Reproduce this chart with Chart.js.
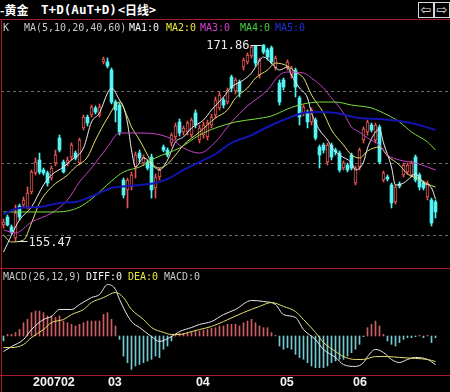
<!DOCTYPE html>
<html>
<head>
<meta charset="utf-8">
<script src="https://cdn.jsdelivr.net/npm/chart.js@4.4.0/dist/chart.umd.min.js"></script>
<style>
    body { margin: 0; background: #000; width: 450px; height: 392px; overflow: hidden; position: relative; }
    canvas { position: absolute; left: 1px; }
    #kline { top: 20px; }
    #macd { top: 268px; }
    .txt { position: absolute; white-space: pre; font: 10px 'DejaVu Sans Mono', monospace; line-height: 12px; }
    .title { position: absolute; top: 2px; color: #fff; font-weight: bold; font-size: 12px; line-height: 15px; white-space: pre; }
    .rule { position: absolute; background: #a8182a; }
    .btn { position: absolute; top: 2px; width: 14px; height: 14px; border: 1px solid #d8d8d8; color: #e8e8e8;
           font: 13px 'DejaVu Sans', sans-serif; line-height: 14px; text-align: center; }
</style>
</head>
<body>
<canvas id="kline" width="449" height="248"></canvas>
<canvas id="macd" width="449" height="124"></canvas>

<div class="title" style="left:0;font-family:'Noto Sans CJK SC';">-黄金</div>
<div class="title" style="left:41px;font-family:'DejaVu Sans Mono';font-size:12.6px;">T+D(AuT+D)</div>
<div class="title" style="left:118px;font-family:'Noto Sans CJK SC';">&lt;日线&gt;</div>
<div class="btn" style="left:418px;">⇦</div>
<div class="btn" style="left:434px;">⇨</div>

<div class="rule" style="left:0;top:19px;width:450px;height:1px;"></div>
<div class="rule" style="left:0;top:268px;width:450px;height:1px;"></div>
<div class="rule" style="left:0;top:375px;width:450px;height:1px;"></div>
<div class="rule" style="left:1px;top:19px;width:1px;height:373px;"></div>

<div class="txt" style="left:3px;top:22px;color:#c8c8c8;">K</div>
<div class="txt" style="left:24px;top:22px;color:#c8c8c8;">MA(5,10,20,40,60)</div>
<div class="txt" style="left:129px;top:22px;color:#f4f4f4;">MA1:0</div>
<div class="txt" style="left:166px;top:22px;color:#e8e840;">MA2:0</div>
<div class="txt" style="left:200px;top:22px;color:#d040d0;">MA3:0</div>
<div class="txt" style="left:240px;top:22px;color:#40d040;">MA4:0</div>
<div class="txt" style="left:275px;top:22px;color:#2030d8;">MA5:0</div>

<div class="txt" style="left:3px;top:271px;color:#c8c8c8;">MACD(26,12,9)</div>
<div class="txt" style="left:86px;top:271px;color:#f4f4f4;">DIFF:0</div>
<div class="txt" style="left:128px;top:271px;color:#e8e840;">DEA:0</div>
<div class="txt" style="left:164px;top:271px;color:#c8c8c8;">MACD:0</div>

<script>
// daily candles, one per trading day
const opens = [156.83,157.5,156.67,155.75,158.42,158.5,158.33,159.58,161.17,162.25,
    161.42,161.17,160.75,162.0,164.08,162.08,162.0,162.5,162.83,162.0,
    164.92,165.83,166.0,166.58,166.0,170.42,170.42,169.75,167.08,166.83,
    160.58,159.75,160.0,161.67,162.83,162.0,162.08,162.5,159.92,160.83,
    163.33,163.08,163.67,164.17,165.42,164.58,164.58,164.33,166.17,163.92,
    164.33,164.17,165.17,166.0,166.58,167.25,167.08,169.17,168.0,168.75,
    170.0,170.42,170.92,171.75,169.33,171.83,171.42,171.6,169.92,168.67,
    168.92,170.0,169.33,169.75,167.42,166.17,166.25,165.42,165.58,163.33,
    163.5,162.08,163.5,163.08,162.83,161.58,161.83,162.67,160.33,161.67,
    163.92,164.58,165.17,163.92,165.0,160.58,160.83,160.17,158.75,160.25,
    161.0,161.25,161.0,162.5,161.0,160.33,159.17,158.92,158.75];
const highs = [157.33,157.67,156.83,158.5,158.58,159.17,160.0,161.42,162.42,162.83,
    161.58,161.33,161.75,163.08,164.33,162.25,162.5,163.67,163.0,164.08,
    166.0,166.0,166.83,166.75,166.92,170.83,170.75,169.92,167.25,167.0,
    160.75,160.75,161.25,162.92,163.08,162.67,162.25,162.75,161.08,161.58,
    163.5,163.25,164.5,165.33,165.67,165.08,165.5,165.75,166.42,165.17,
    165.42,165.58,166.08,167.5,167.92,167.42,168.25,169.33,169.08,168.92,
    170.75,171.17,171.75,171.8,170.75,171.86,171.58,171.75,170.92,168.92,
    169.08,170.58,170.08,169.92,167.58,166.83,166.42,166.58,165.75,163.5,
    163.67,163.67,163.67,163.25,163.0,162.17,162.0,162.83,161.75,163.25,
    165.0,165.58,165.33,165.33,165.17,161.33,161.0,160.33,160.17,160.42,
    162.0,162.0,162.17,162.67,161.17,160.5,160.5,159.08,158.92];
const lows = [156.58,156.75,156.08,155.47,157.25,158.33,158.17,159.42,161.0,161.08,
    161.0,160.08,160.58,161.75,162.92,161.17,161.75,162.25,162.25,161.83,
    164.75,165.08,165.83,166.08,165.83,170.25,169.92,166.92,165.42,164.33,
    159.08,158.25,159.75,160.75,162.08,161.75,161.42,159.08,159.08,160.58,
    162.92,162.5,163.42,163.92,164.25,164.33,164.33,164.17,164.92,163.67,
    164.08,163.92,164.92,165.75,166.42,166.58,166.92,167.92,167.75,167.5,
    169.75,170.25,170.75,170.08,169.08,171.08,170.58,170.25,169.75,166.83,
    168.08,169.75,169.08,167.5,165.17,165.92,164.92,165.17,163.92,161.58,
    162.83,161.83,162.25,162.67,161.25,161.42,161.25,161.42,160.17,161.42,
    163.67,164.33,164.58,163.67,161.92,160.42,160.5,158.25,158.58,159.92,
    160.83,161.08,160.83,160.42,159.75,159.75,158.92,156.75,157.42];
const closes = [157.08,156.83,156.25,157.83,157.5,158.92,159.5,161.25,162.08,161.25,
    161.17,160.33,161.58,162.67,163.08,161.25,162.25,163.5,162.42,163.92,
    165.83,165.33,166.67,166.25,166.67,170.67,170.08,167.08,166.42,164.58,
    159.33,160.58,161.0,162.67,162.42,162.5,161.58,159.75,160.83,161.42,
    163.08,162.67,164.33,165.08,164.5,164.92,165.33,165.58,165.17,164.92,
    165.17,165.33,165.83,167.25,167.67,166.83,168.08,168.25,168.92,167.92,
    170.58,171.0,171.67,170.33,170.58,171.25,170.83,170.42,170.75,167.08,
    168.33,170.42,169.92,168.33,165.83,166.67,165.42,166.42,164.08,162.67,
    163.08,163.5,162.5,162.92,161.42,162.0,161.42,161.58,161.58,163.08,
    164.83,165.42,164.75,165.17,162.08,161.17,160.67,158.67,160.0,160.08,
    161.83,161.83,162.0,160.58,160.0,159.92,160.33,157.0,157.92];

// moving averages as [day index, price]
const ma5 = [[0,154.58],[4,157.25],[7,158.33],[10,160.17],[12,161.0],[15,161.67],[17,162.25],[20,163.25],
    [22,165.42],[24,166.17],[26,167.83],[27,168.25],[29,167.25],[30,166.67],[31,165.33],[32,163.08],[33,161.67],
    [35,162.42],[38,161.58],[39,161.42],[41,162.25],[43,163.75],[45,164.17],[47,164.92],[50,165.58],[52,166.42],
    [55,167.5],[57,168.33],[60,168.92],[62,169.5],[63,170.0],[65,170.83],[67,170.33],[69,169.75],[71,170.0],
    [72,169.33],[74,168.25],[76,167.42],[77,166.17],[79,164.75],[81,163.92],[82,163.33],[84,162.67],[87,162.0],
    [88,161.42],[90,162.08],[91,163.25],[93,164.58],[94,164.83],[95,163.67],[97,161.67],[98,160.17],[100,160.33],
    [101,160.58],[103,161.08],[105,160.33],[107,159.92],[108,159.0]];
const ma10 = [[0,156.0],[2,155.42],[5,155.58],[7,157.0],[9,158.67],[12,160.0],[16,161.0],[18,161.67],[21,162.5],
    [23,163.92],[26,165.75],[29,167.08],[31,165.83],[32,165.0],[34,163.92],[36,162.67],[37,162.0],[39,161.58],
    [41,161.92],[43,162.67],[45,163.5],[49,164.58],[53,165.75],[56,166.42],[58,167.42],[61,168.25],[63,169.08],
    [66,169.75],[68,170.33],[71,170.08],[73,169.58],[75,169.08],[77,167.67],[80,166.17],[82,164.75],[85,163.5],
    [87,162.67],[89,162.42],[91,163.0],[94,163.33],[96,162.58],[99,161.83],[101,161.08],[104,160.67],[106,160.25],
    [108,160.0]];
const ma20 = [[0,156.42],[3,156.17],[7,157.08],[12,157.83],[16,158.92],[19,160.42],[22,161.58],[26,163.33],
    [29,164.5],[33,164.5],[38,164.42],[42,164.0],[45,163.25],[49,162.83],[53,163.75],[57,165.42],[61,166.75],
    [66,168.08],[69,169.33],[71,169.58],[75,169.5],[77,169.08],[80,168.25],[82,167.42],[85,166.17],[87,165.0],
    [89,164.58],[91,164.08],[94,163.5],[96,162.67],[99,162.25],[103,162.0],[106,161.67],[108,161.42]];
const ma40 = [[0,157.92],[12,157.92],[16,158.0],[19,158.33],[22,159.0],[27,160.5],[30,161.25],[34,161.67],
    [38,162.42],[44,163.25],[49,164.33],[53,164.92],[58,165.42],[63,165.67],[67,165.92],[71,166.5],[75,166.92],
    [79,167.08],[83,167.08],[87,166.83],[92,166.58],[96,166.0],[99,165.42],[102,164.58],[106,163.75],[108,163.08]];
const ma60 = [[0,157.75],[4,158.25],[9,158.33],[14,158.67],[18,158.75],[21,159.08],[24,159.5],[27,159.92],
    [31,160.08],[34,160.17],[38,160.33],[41,160.67],[45,161.42],[49,162.08],[53,162.75],[57,163.67],[62,164.33],
    [66,165.0],[70,165.58],[75,166.17],[79,166.25],[83,166.17],[89,165.75],[94,165.67],[99,165.5],[103,165.25],
    [108,164.75]];

// MACD pane
const diffLine = [[0,-0.91],[2,-0.62],[5,-0.21],[7,0.38],[10,0.97],[12,1.15],[14,1.56],[17,1.56],[19,1.85],
    [22,2.26],[24,2.44],[26,3.03],[28,2.74],[29,2.15],[32,0.85],[34,0.5],[37,-0.03],[39,-0.32],[42,-0.03],
    [44,0.26],[47,0.5],[49,0.68],[52,0.85],[55,1.26],[58,1.56],[62,2.09],[65,2.03],[68,1.85],[70,1.26],
    [73,1.09],[75,0.38],[78,-0.21],[80,-0.79],[83,-1.26],[85,-1.68],[88,-1.79],[90,-1.56],[91,-1.21],
    [93,-0.79],[95,-0.97],[97,-1.38],[99,-1.56],[101,-1.38],[103,-1.26],[106,-1.38],[108,-1.68]];
const deaLine = [[0,-0.68],[2,-0.68],[5,-0.5],[7,-0.09],[10,0.38],[12,0.79],[15,0.97],[17,1.26],[20,1.56],
    [22,1.97],[25,2.26],[28,2.56],[30,2.26],[32,1.56],[35,0.97],[37,0.5],[40,0.21],[42,0.09],[44,0.09],
    [47,0.26],[49,0.38],[52,0.56],[55,0.85],[60,1.38],[64,1.74],[67,1.97],[70,1.74],[73,1.44],[75,0.97],
    [78,0.21],[80,-0.38],[83,-0.91],[85,-1.21],[88,-1.38],[90,-1.38],[93,-1.21],[96,-1.21],[99,-1.26],
    [103,-1.32],[106,-1.38],[108,-1.5]];
const macdHist = [-0.29,0.10,0.10,0.20,0.39,0.78,0.98,1.37,1.47,1.47,
    1.37,1.18,1.18,1.08,1.18,0.88,0.78,0.69,0.59,0.69,
    0.78,0.88,0.88,0.88,0.88,1.27,1.37,0.98,0.59,-0.20,
    -1.18,-1.57,-1.96,-1.76,-1.67,-1.57,-1.47,-1.37,-1.18,-1.27,
    -0.78,-0.59,-0.29,0.10,0.16,0.16,0.20,0.24,0.27,0.29,
    0.33,0.39,0.45,0.49,0.59,0.59,0.69,0.69,0.69,0.59,
    0.78,0.88,0.98,0.78,0.59,0.49,0.49,0.20,0.04,-0.59,
    -0.78,-0.69,-0.78,-1.08,-1.27,-1.37,-1.57,-1.76,-1.86,-1.86,
    -1.86,-1.76,-1.57,-1.47,-1.37,-1.37,-1.18,-0.98,-0.78,-0.49,
    -0.04,0.49,0.69,0.88,0.59,0.10,-0.29,-0.49,-0.59,-0.39,
    -0.20,-0.10,-0.10,-0.04,0.04,-0.10,0.04,-0.39,-0.10];

// month labels and the day index where each month starts
const monthLabels = ['200702', '03', '04', '05', '06'];
const monthIdx = [7.4, 26.1, 48.1, 69.1, 87.4];
const gridPrices = [156, 162, 168];

const colors = {
    up: '#ec5454',
    down: '#54f4f4',
    histUp: '#d06060',
    histDown: '#74cad4',
    ma5: '#ececec',
    ma10: '#e4e070',
    ma20: '#c844c8',
    ma40: '#7ee040',
    ma60: '#1414b0',
    grid: '#6c6c6c',
    label: '#e8e8e8'
};

// x: 4px per day, day 0 centred at 2.5px inside the canvas
const xScale = { type: 'linear', min: -0.625, max: 111.625, display: false, offset: false, grid: { offset: false } };

const isUp = i => closes[i] >= opens[i];
const pts = arr => arr.map(p => ({ x: p[0], y: p[1] }));

function maLine(data, color, width) {
    return {
        type: 'line', data: pts(data), borderColor: color, borderWidth: width,
        pointRadius: 0, cubicInterpolationMode: 'monotone', order: 1
    };
}

// price high / low markers
const extremeLabels = {
    id: 'extremeLabels',
    afterDatasetsDraw(chart) {
        const { ctx, scales: { x, y } } = chart;
        const hi = highs.indexOf(Math.max(...highs));
        const lo = lows.indexOf(Math.min(...lows));
        ctx.save();
        ctx.font = '12px "DejaVu Sans Mono"';
        ctx.fillStyle = colors.label;
        ctx.strokeStyle = colors.label;
        ctx.lineWidth = 1;
        ctx.textBaseline = 'middle';

        let px = x.getPixelForValue(hi);
        let py = Math.round(y.getPixelForValue(highs[hi])) + 0.5;
        ctx.beginPath(); ctx.moveTo(px - 13, py); ctx.lineTo(px - 2, py); ctx.stroke();
        ctx.textAlign = 'right';
        ctx.fillText(highs[hi].toFixed(2), px - 14, py);

        px = x.getPixelForValue(lo);
        py = Math.round(y.getPixelForValue(lows[lo])) + 0.5;
        ctx.beginPath(); ctx.moveTo(px + 2, py); ctx.lineTo(px + 12, py); ctx.stroke();
        ctx.textAlign = 'left';
        ctx.fillText(lows[lo].toFixed(2), px + 13, py + 1);
        ctx.restore();
    }
};

const monthAxis = {
    id: 'monthAxis',
    afterDraw(chart) {
        const { ctx, scales: { x } } = chart;
        ctx.save();
        ctx.font = 'bold 12.5px "Liberation Sans"';
        ctx.fillStyle = '#f4f4f4';
        ctx.textAlign = 'left';
        ctx.textBaseline = 'middle';
        monthIdx.forEach((m, k) => ctx.fillText(monthLabels[k], x.getPixelForValue(m), 115));
        ctx.restore();
    }
};

const baseOptions = {
    responsive: false,
    animation: false,
    devicePixelRatio: 1,
    events: [],
    layout: { padding: 0 },
    plugins: { legend: { display: false }, tooltip: { enabled: false } }
};

function renderKline() {
    const idx = opens.map((_, i) => i);
    new Chart(document.getElementById('kline'), {
        type: 'bar',
        data: {
            datasets: [
                {
                    data: idx.map(i => ({ x: i, y: [lows[i], highs[i]] })),
                    backgroundColor: idx.map(i => isUp(i) ? colors.up : colors.down),
                    barThickness: 1, grouped: false, order: 3
                },
                {
                    data: idx.map(i => ({ x: i, y: [opens[i], closes[i]] })),
                    backgroundColor: idx.map(i => isUp(i) ? '#000' : colors.down),
                    borderColor: idx.map(i => isUp(i) ? colors.up : colors.down),
                    borderWidth: idx.map(i => isUp(i) ? 1 : 0),
                    borderSkipped: false, minBarLength: 1,
                    barThickness: 3, grouped: false, order: 2
                },
                maLine(ma60, colors.ma60, 2),
                maLine(ma40, colors.ma40, 1),
                maLine(ma20, colors.ma20, 1),
                maLine(ma10, colors.ma10, 1),
                maLine(ma5, colors.ma5, 1)
            ]
        },
        options: {
            ...baseOptions,
            scales: {
                x: xScale,
                y: {
                    min: 153.25, max: 173.917,
                    afterBuildTicks: s => { s.ticks = gridPrices.map(v => ({ value: v })); },
                    ticks: { display: false },
                    grid: { color: colors.grid, drawTicks: false },
                    border: { display: false, dash: [3, 3] }
                }
            }
        },
        plugins: [extremeLabels]
    });
}

function renderMacd() {
    new Chart(document.getElementById('macd'), {
        type: 'bar',
        data: {
            datasets: [
                {
                    data: macdHist.map((v, i) => ({ x: i, y: v })),
                    backgroundColor: macdHist.map(v => v >= 0 ? colors.histUp : colors.histDown),
                    barThickness: 1, grouped: false, order: 2
                },
                { type: 'line', data: pts(deaLine), borderColor: colors.ma10, borderWidth: 1, pointRadius: 0, cubicInterpolationMode: 'monotone', order: 1 },
                { type: 'line', data: pts(diffLine), borderColor: colors.ma5, borderWidth: 1, pointRadius: 0, cubicInterpolationMode: 'monotone', order: 1 }
            ]
        },
        options: {
            ...baseOptions,
            scales: {
                x: xScale,
                y: { min: -3.294, max: 4.0, display: false }
            }
        },
        plugins: [monthAxis]
    });
}

renderKline();
renderMacd();
</script>
</body>
</html>
